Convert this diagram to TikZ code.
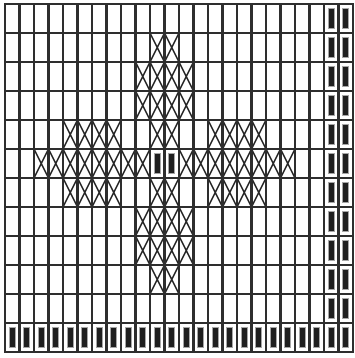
\documentclass[tikz,border=0pt]{standalone}
\begin{document}
\begin{tikzpicture}[x=1pt,y=-1pt]
\useasboundingbox (0,0) rectangle (355,358);
\def\cw{14.5}
\def\ch{29}
\def\ox{5}
\def\oy{4}
\tikzset{
  gridline/.style={line width=2.2pt,draw=black!82,line cap=rect},
  crossline/.style={line width=1.4pt,draw=black!85},
  darkcell/.style={fill=black!88,draw=black!35,line width=0.9pt}
}
% crossed cells
\foreach \r/\a/\b in {1/10/11, 2/9/12, 3/9/12, 4/4/7, 4/10/11, 4/14/17, 5/2/9, 5/12/19, 6/4/7, 6/10/11, 6/14/17, 7/9/12, 8/9/12, 9/10/11}{
  \foreach \c in {\a,...,\b}{
    \draw[crossline] ({\ox+\c*\cw},{\oy+\r*\ch}) -- ({\ox+(\c+1)*\cw},{\oy+(\r+1)*\ch})
                     ({\ox+(\c+1)*\cw},{\oy+\r*\ch}) -- ({\ox+\c*\cw},{\oy+(\r+1)*\ch});
  }
}
% dark cells
\foreach \c in {0,...,23}{
  \draw[darkcell] ({\ox+\c*\cw+4.3},{\oy+11*\ch+4.3}) rectangle ({\ox+(\c+1)*\cw-4.3},{\oy+12*\ch-4.3});
}
\foreach \r in {0,...,10}{
  \foreach \c in {22,23}{
    \draw[darkcell] ({\ox+\c*\cw+4.3},{\oy+\r*\ch+4.3}) rectangle ({\ox+(\c+1)*\cw-4.3},{\oy+(\r+1)*\ch-4.3});
  }
}
\foreach \c in {10,11}{
  \draw[darkcell] ({\ox+\c*\cw+4.3},{\oy+5*\ch+4.3}) rectangle ({\ox+(\c+1)*\cw-4.3},{\oy+6*\ch-4.3});
}
% grid
\foreach \i in {0,...,24}{
  \draw[gridline] ({\ox+\i*\cw},{\oy}) -- ({\ox+\i*\cw},{\oy+12*\ch});
}
\foreach \j in {0,...,12}{
  \draw[gridline] ({\ox},{\oy+\j*\ch}) -- ({\ox+24*\cw},{\oy+\j*\ch});
}
\end{tikzpicture}
\end{document}
